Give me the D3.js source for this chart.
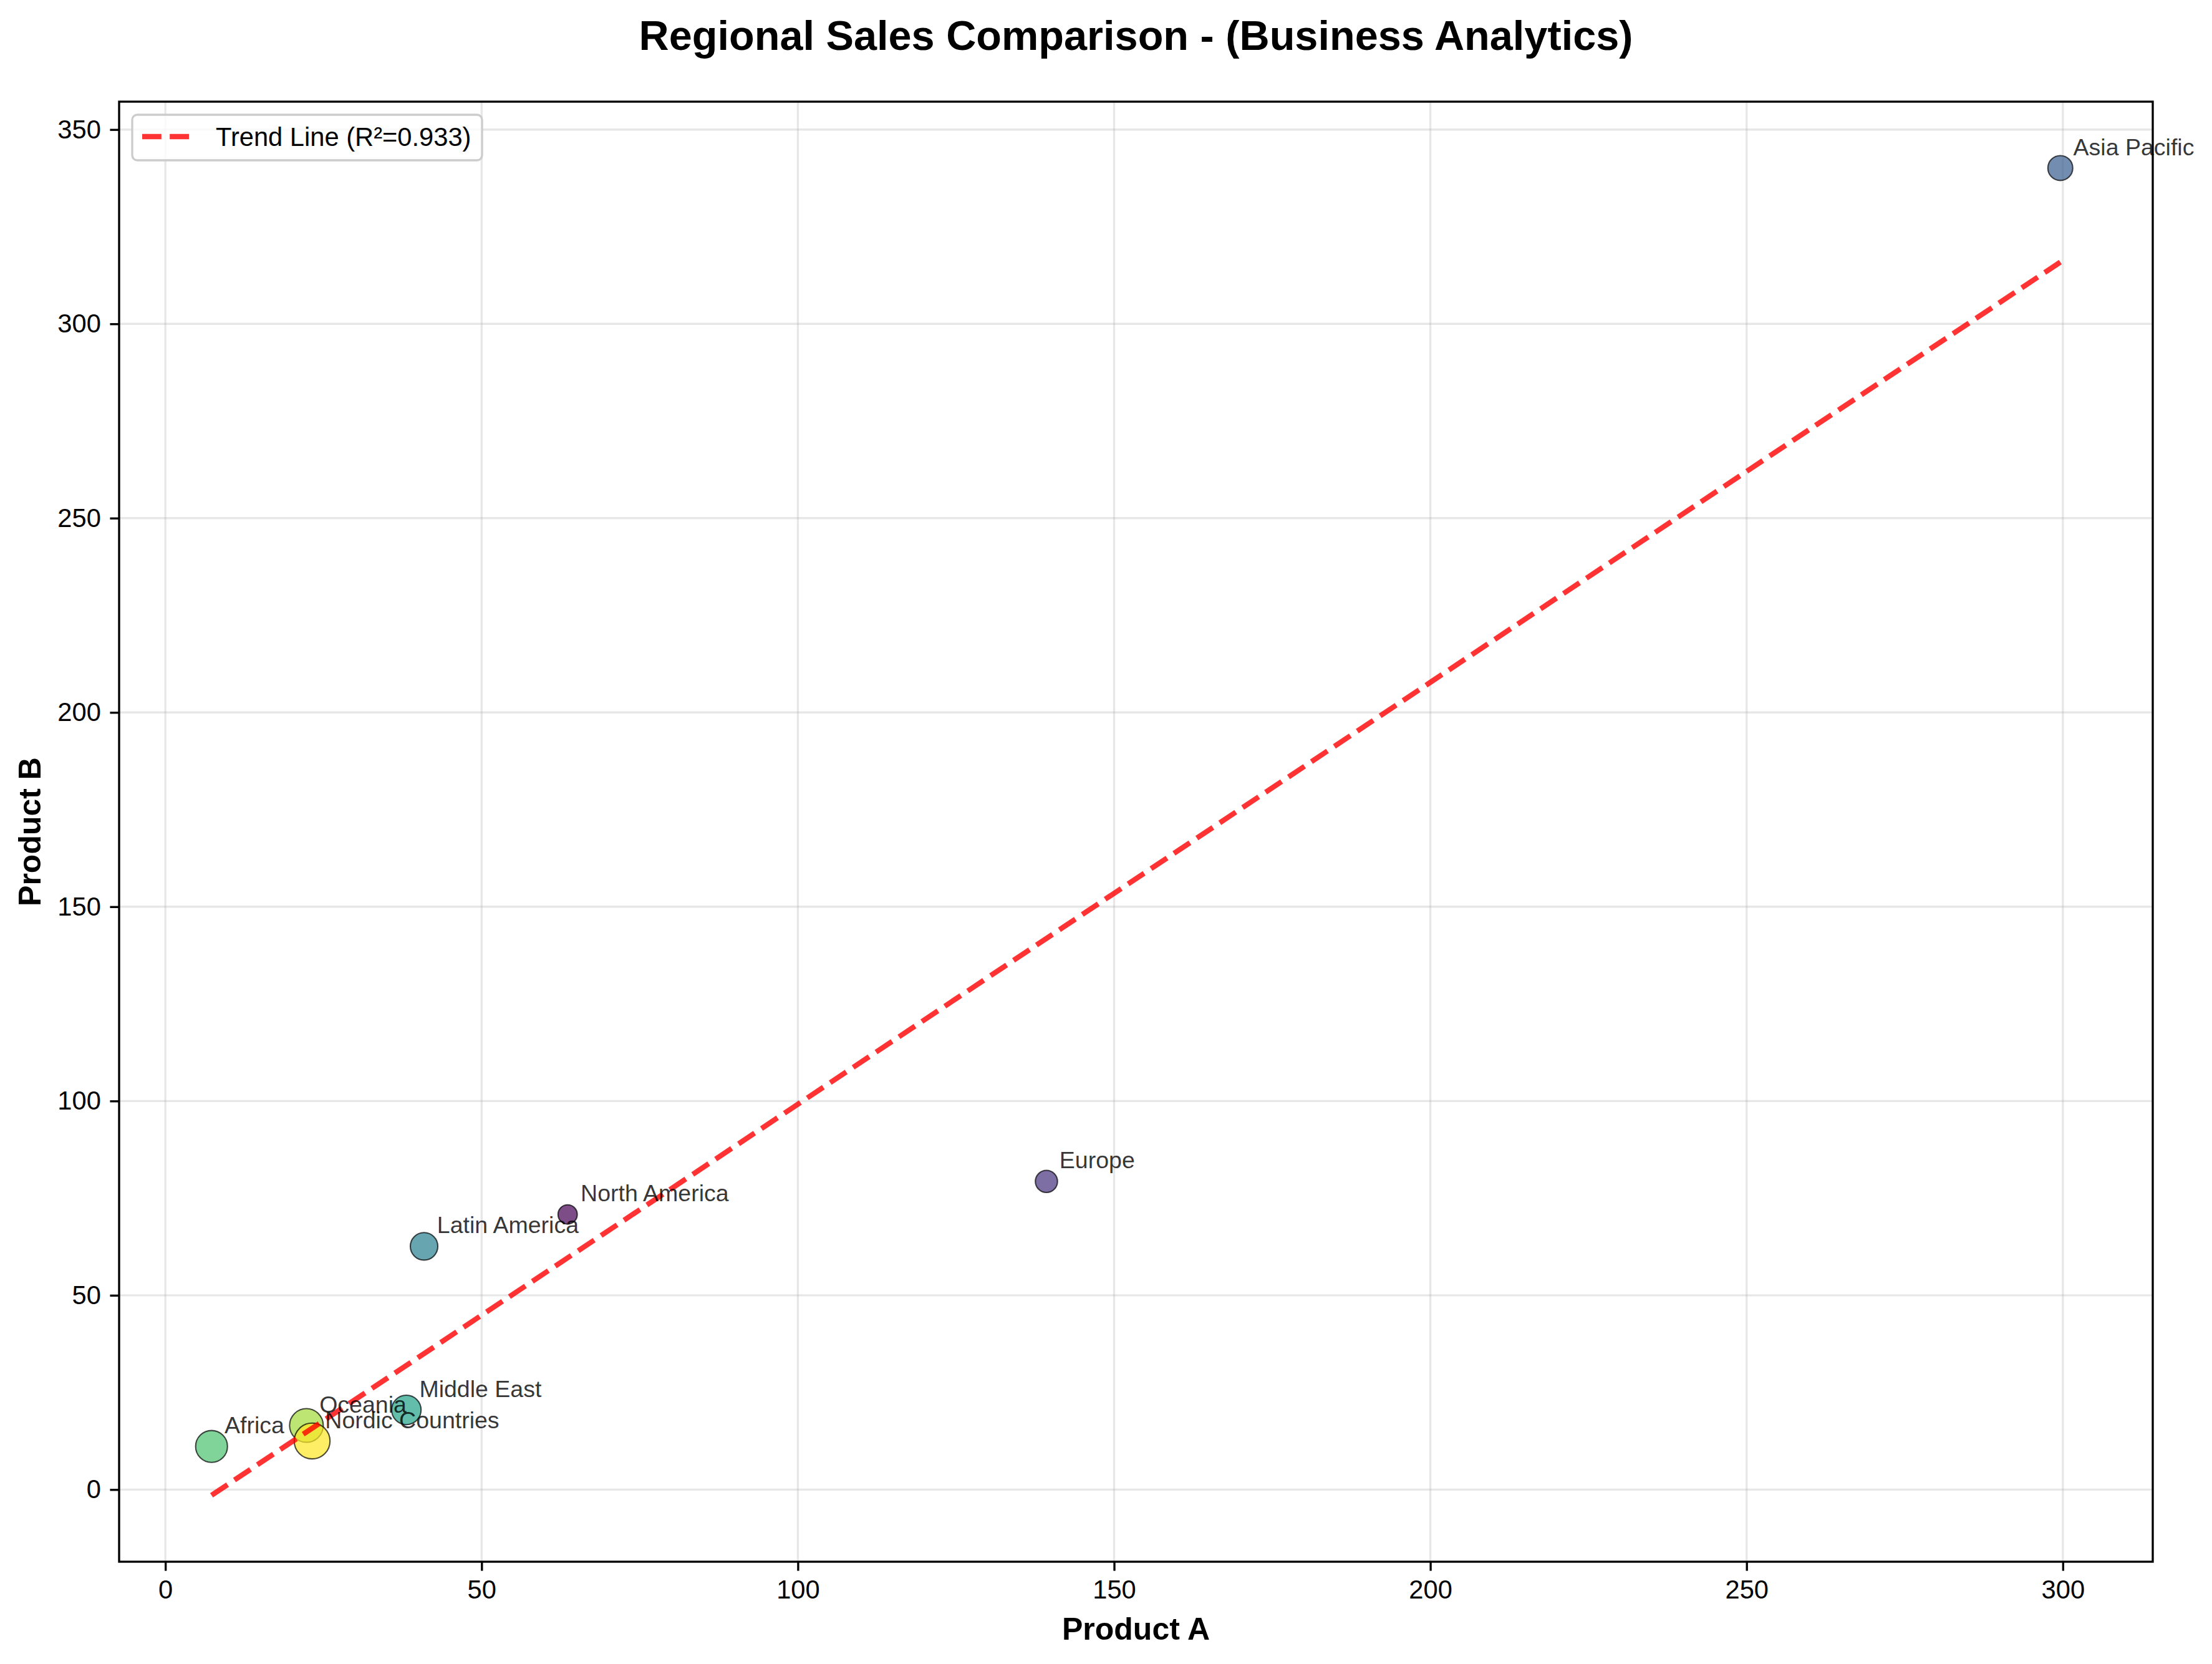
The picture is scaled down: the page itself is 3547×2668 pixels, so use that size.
<!DOCTYPE html>
<html>
<head>
<meta charset="utf-8">
<script src="https://cdn.jsdelivr.net/npm/d3@7"></script>
<style>
  body { margin: 0; background: #fff; }
  text { font-family: "Liberation Sans", Arial, sans-serif; }
</style>
</head>
<body>
<div id="chart"></div>
<script>
const regions = ["North America", "Europe", "Asia Pacific", "Latin America", "Middle East", "Africa", "Oceania", "Nordic Countries"];
const productA = [63.6, 139.3, 299.6, 40.9, 38.1, 7.3, 22.3, 23.2];
const productB = [70.8, 79.3, 340.1, 62.6, 20.5, 11.1, 16.5, 12.5];
const bubbleSize = [43, 57, 72, 88, 101, 118, 132, 149];
const xTicks = [0, 50, 100, 150, 200, 250, 300];
const yTicks = [0, 50, 100, 150, 200, 250, 300, 350];

const W = 3547, H = 2668;
const pt = 300 / 72;
const plotL = 191, plotR = 3452, plotT = 163, plotB = 2504;

// least squares fit
const n = productA.length;
const mx = d3.mean(productA), my = d3.mean(productB);
let sxy = 0, sxx = 0, syy = 0;
for (let i = 0; i < n; i++) {
    sxy += (productA[i] - mx) * (productB[i] - my);
    sxx += (productA[i] - mx) ** 2;
    syy += (productB[i] - my) ** 2;
}
const slope = sxy / sxx;
const intercept = my - slope * mx;
const r2 = (sxy * sxy) / (sxx * syy);
const xMin = d3.min(productA), xMax = d3.max(productA);
const trend = [[xMin, intercept + slope * xMin], [xMax, intercept + slope * xMax]];

// matplotlib style 5% margins
const pad = (lo, hi) => [lo - (hi - lo) * 0.05, hi + (hi - lo) * 0.05];
const yLo = Math.min(d3.min(productB), trend[0][1], trend[1][1]);
const yHi = Math.max(d3.max(productB), trend[0][1], trend[1][1]);

const xScale = d3.scaleLinear().domain(pad(xMin, xMax)).range([plotL, plotR]);
const yScale = d3.scaleLinear().domain(pad(yLo, yHi)).range([plotB, plotT]);
const rScale = d3.scaleSqrt().domain([0, 149]).range([0, 28.7]);

const svg = d3.select('#chart')
    .append('svg')
    .attr('width', W)
    .attr('height', H)

svg.append('rect').attr('width', W).attr('height', H).attr('fill', '#fff')

// grid
svg.append('g')
    .selectAll('line')
    .data(xTicks)
    .enter()
    .append('line')
    .attr('x1', d => xScale(d)).attr('x2', d => xScale(d))
    .attr('y1', plotT).attr('y2', plotB)
    .attr('stroke', '#b0b0b0').attr('stroke-opacity', 0.3).attr('stroke-width', 0.8 * pt)

svg.append('g')
    .selectAll('line')
    .data(yTicks)
    .enter()
    .append('line')
    .attr('y1', d => yScale(d)).attr('y2', d => yScale(d))
    .attr('x1', plotL).attr('x2', plotR)
    .attr('stroke', '#b0b0b0').attr('stroke-opacity', 0.3).attr('stroke-width', 0.8 * pt)

// points
svg.append('g')
    .selectAll('circle')
    .data(regions)
    .enter()
    .append('circle')
    .attr('cx', (d, i) => xScale(productA[i]))
    .attr('cy', (d, i) => yScale(productB[i]))
    .attr('r', (d, i) => rScale(bubbleSize[i]))
    .attr('fill', (d, i) => d3.interpolateViridis(i / (n - 1)))
    .attr('fill-opacity', 0.7)
    .attr('stroke', '#000')
    .attr('stroke-opacity', 0.7)
    .attr('stroke-width', 0.5 * pt)

// trend line
const line = d3.line().x(d => xScale(d[0])).y(d => yScale(d[1]))
svg.append('path')
    .datum(trend)
    .attr('d', line)
    .attr('fill', 'none')
    .attr('stroke', 'red')
    .attr('stroke-opacity', 0.8)
    .attr('stroke-width', 2 * pt)
    .attr('stroke-dasharray', (7.4 * pt) + ',' + (3.2 * pt))

// point labels
svg.append('g')
    .selectAll('text')
    .data(regions)
    .enter()
    .append('text')
    .attr('x', (d, i) => xScale(productA[i]) + 5 * pt)
    .attr('y', (d, i) => yScale(productB[i]) - 5 * pt)
    .attr('font-size', 9 * pt)
    .attr('fill', '#000')
    .attr('fill-opacity', 0.8)
    .text(d => d)

// axes
const xAxis = d3.axisBottom(xScale).tickValues(xTicks).tickSize(3.5 * pt).tickPadding(3.5 * pt)
const yAxis = d3.axisLeft(yScale).tickValues(yTicks).tickSize(3.5 * pt).tickPadding(3.5 * pt)

const gx = svg.append('g')
    .attr('transform', 'translate(0,' + plotB + ')')
    .call(xAxis)
const gy = svg.append('g')
    .attr('transform', 'translate(' + plotL + ',0)')
    .call(yAxis)

;[gx, gy].forEach(g => {
    g.select('.domain').remove()
    g.selectAll('line').attr('stroke', '#000').attr('stroke-width', 0.8 * pt)
    g.selectAll('text').attr('font-size', 10 * pt).attr('fill', '#000')
        .style('font-family', '"Liberation Sans", Arial, sans-serif')
})

// frame
svg.append('rect')
    .attr('x', plotL).attr('y', plotT)
    .attr('width', plotR - plotL).attr('height', plotB - plotT)
    .attr('fill', 'none').attr('stroke', '#000').attr('stroke-width', 0.8 * pt)

// title and labels
svg.append('text')
    .attr('x', (plotL + plotR) / 2).attr('y', 80)
    .attr('text-anchor', 'middle')
    .attr('font-size', 16 * pt).attr('font-weight', 'bold')
    .text('Regional Sales Comparison - (Business Analytics)')

svg.append('text')
    .attr('x', (plotL + plotR) / 2).attr('y', 2629)
    .attr('text-anchor', 'middle')
    .attr('font-size', 12 * pt).attr('font-weight', 'bold')
    .text('Product A')

svg.append('text')
    .attr('transform', 'translate(65,' + (plotT + plotB) / 2 + ') rotate(-90)')
    .attr('text-anchor', 'middle')
    .attr('font-size', 12 * pt).attr('font-weight', 'bold')
    .text('Product B')

// legend
const legend = svg.append('g').attr('id', 'legend')
legend.append('rect')
    .attr('x', 212).attr('y', 184)
    .attr('width', 561).attr('height', 73)
    .attr('rx', 8).attr('ry', 8)
    .attr('fill', '#fff').attr('fill-opacity', 0.8)
    .attr('stroke', '#cccccc').attr('stroke-width', 0.8 * pt)
legend.append('line')
    .attr('x1', 228).attr('x2', 228 + 20 * pt)
    .attr('y1', 219).attr('y2', 219)
    .attr('stroke', 'red').attr('stroke-opacity', 0.8)
    .attr('stroke-width', 2 * pt)
    .attr('stroke-dasharray', (7.4 * pt) + ',' + (3.2 * pt))
legend.append('text')
    .attr('x', 346).attr('y', 219)
    .attr('dy', '0.35em')
    .attr('font-size', 10 * pt)
    .text('Trend Line (R²=' + r2.toFixed(3) + ')')
</script>
</body>
</html>
